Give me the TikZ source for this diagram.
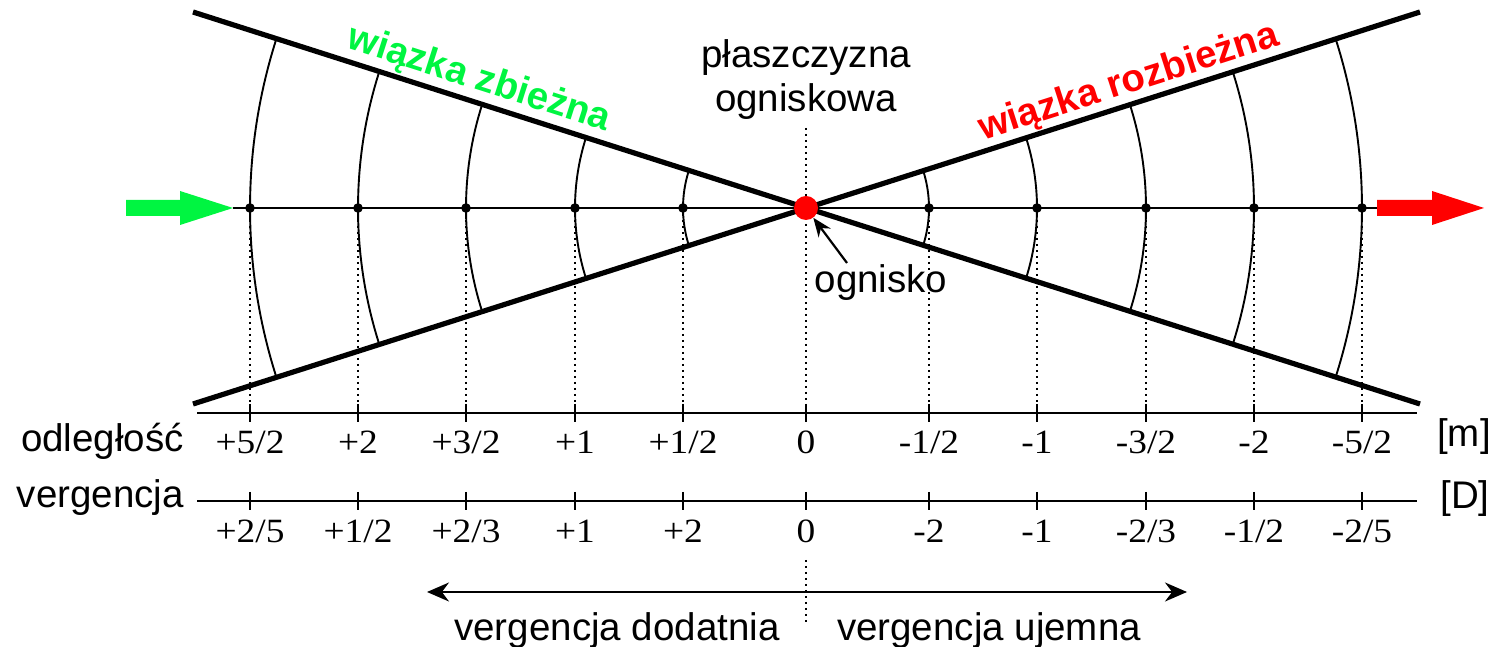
\documentclass[tikz,border=0pt]{standalone}
\usepackage{fontspec}
\setmainfont{Liberation Sans}
\newfontfamily\numfont[FakeStretch=1.1]{Liberation Serif}
\usetikzlibrary{arrows.meta}
\definecolor{beamgreen}{RGB}{0,245,65}
\definecolor{beamred}{RGB}{255,0,0}
\begin{document}
\begin{tikzpicture}[x=1pt,y=1pt,
  thickray/.style={line width=5.2pt},
  thinline/.style={line width=2.1pt},
  arcline/.style={line width=1.9pt},
  dotline/.style={line width=1.9pt, dash pattern=on 2pt off 4pt},
  lbl/.style={font=\fontsize{38.5}{40}\selectfont, inner sep=0pt},
  num/.style={font=\numfont\fontsize{34}{36}\selectfont, inner sep=0pt, anchor=base},
  beam/.style={font=\bfseries\fontsize{38.5}{40}\selectfont, inner sep=0pt},
  axisdot/.style={fill=black},
]
\useasboundingbox (0,0) rectangle (1499,647);

% key points
\coordinate (F) at (806,439);
\coordinate (TL) at (193,635);
\coordinate (BR) at (1420,243);
\coordinate (BL) at (193,243);
\coordinate (TR) at (1420,635);
\coordinate (gtip) at (233,439);
\coordinate (rstart) at (1377,439);

% optical axis
\draw[thinline] (gtip) -- (rstart);

% wavefront arcs
\foreach \r in {123,231,340,448,556} {
  \draw[arcline] (F) ++(162.28:\r) arc[start angle=162.28, end angle=197.72, radius=\r];
  \draw[arcline] (F) ++(-17.72:\r) arc[start angle=-17.72, end angle=17.72, radius=\r];
}

% scales
\coordinate (sL) at (197,234);
\coordinate (sR) at (1417,234);
\coordinate (vL) at (197,146);
\coordinate (vR) at (1417,146);
\draw[thinline] (sL) -- (sR);
\draw[thinline] (vL) -- (vR);

% tick positions, labels
\foreach \x/\d/\v [count=\i] in {250/+5\slash 2/+2\slash 5, 358/+2/+1\slash 2, 466/+3\slash 2/+2\slash 3, 575/+1/+1, 683/+1\slash 2/+2, 806/0/0, 929/-1\slash 2/-2, 1037/-1/-1, 1146/-3\slash 2/-2\slash 3, 1254/-2/-1\slash 2, 1362/-5\slash 2/-2\slash 5} {
  \coordinate (p\i) at (\x,439);
  \coordinate (s\i) at (\x,234);
  \ifnum\i=6
    \draw[dotline] (\x,519) -- (s\i);
  \else
    \draw[dotline] (\x,433) -- (s\i);
    \fill[axisdot] (p\i) circle (4.8);
  \fi
  \draw[thinline] (\x,243) -- (\x,225);
  \draw[thinline] (\x,155) -- (\x,137);
  \node[num] (dl\i) at (\x,193) {\d};
  \node[num] (vl\i) at (\x,104) {\v};
}

% rays
\draw[thickray] (TL) -- (BR);
\draw[thickray] (BL) -- (TR);

% arrows on axis
\fill[beamgreen] (126,431) -- (180,431) -- (180,422) -- (gtip) -- (180,456) -- (180,447) -- (126,447) -- cycle;
\fill[beamred] (rstart) ++(0,-8) -- (1432,431) -- (1432,422) -- (1484,439) -- (1432,456) -- (1432,447) -- (1377,447) -- cycle;

% focus
\node[circle, fill=beamred, minimum size=24pt, inner sep=0pt] (focus) at (F) {};

% texts
\node[lbl, anchor=base] (plasz) at (806,579) {płaszczyzna};
\node[lbl, anchor=base] (ognw) at (806,535) {ogniskowa};
\node[lbl, anchor=base] (ogn) at (881,354) {ognisko};
\coordinate (oa) at (847,384);
\draw[line width=2.2pt, -{Stealth[length=19pt,width=15pt]}] (oa) -- (focus);

\node[beam, text=beamgreen, rotate=-17.72] (zb) at (479,567) {wiązka zbieżna};
\node[beam, text=beamred, rotate=17.72] (rozb) at (1129,564) {wiązka rozbieżna};

\node[lbl, anchor=base east] (odl) at (184,195) {odległość};
\node[lbl, anchor=base east] (verg) at (184,139) {vergencja};
\node[lbl, anchor=base] (unitm) at (1464,200) {[m]};
\node[lbl, anchor=base] (unitD) at (1465,138) {[D]};

% bottom
\coordinate (bl) at (427,55);
\coordinate (br) at (1187,55);
\draw[thinline, {Stealth[length=22pt,width=19pt]}-{Stealth[length=22pt,width=19pt]}] (bl) -- (br);
\draw[dotline] (806,87) -- (806,24);
\node[lbl, anchor=base] (vdod) at (617,6) {vergencja dodatnia};
\node[lbl, anchor=base] (vuj) at (989,6) {vergencja ujemna};
\end{tikzpicture}
\end{document}
